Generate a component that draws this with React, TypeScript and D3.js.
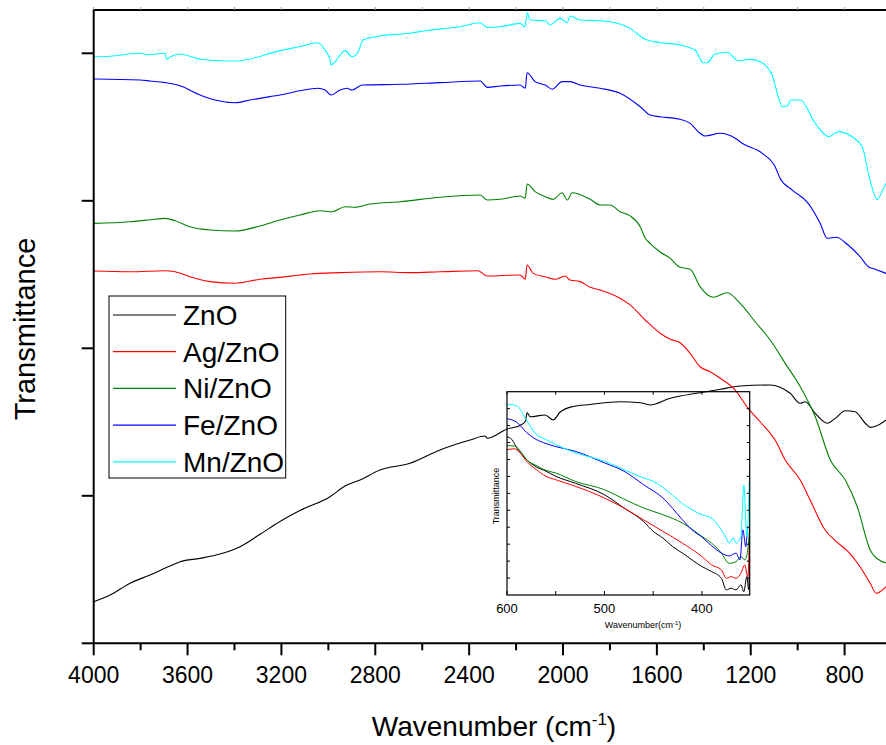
import React, { useEffect, useRef } from 'react';
import * as d3 from 'd3';

const W = 886;
const H = 745;
const FONT = '"Liberation Sans", Arial, sans-serif';

const seriesNames = ['ZnO', 'Ag/ZnO', 'Ni/ZnO', 'Fe/ZnO', 'Mn/ZnO'];
const seriesColors = ['#000000', '#ff0000', '#008000', '#0000ff', '#00ffff'];

const xTicks = [4000, 3600, 3200, 2800, 2400, 2000, 1600, 1200, 800];
const xMinorTicks = [3800, 3400, 3000, 2600, 2200, 1800, 1400, 1000];
const yTicks = [0, 1, 2, 3, 4];
const insetXTicks = [600, 500, 400];
const insetMinorTicks = [550, 450];

// main spectra: [wavenumber, transmittance (a.u.)]
const zno: [number, number][] = [
  [4000, 0.282], [3930, 0.327], [3845, 0.407], [3760, 0.463], [3675, 0.524], [3632, 0.553],
  [3547, 0.576], [3462, 0.605], [3376, 0.655], [3291, 0.739], [3206, 0.826], [3121, 0.9],
  [2993, 0.994], [2929, 1.066], [2865, 1.107], [2780, 1.175], [2652, 1.22], [2524, 1.311],
  [2396, 1.378], [2332, 1.405], [2323, 1.39], [2238, 1.453], [2183, 1.477], [2161, 1.502],
  [2153, 1.563], [2140, 1.536], [2076, 1.548], [2042, 1.514], [2012, 1.568], [1961, 1.604],
  [1884, 1.619], [1757, 1.638], [1671, 1.631], [1629, 1.616], [1543, 1.661], [1416, 1.699],
  [1330, 1.722], [1245, 1.744], [1117, 1.751], [1075, 1.736], [1032, 1.695], [989, 1.627],
  [968, 1.638], [925, 1.559], [874, 1.492], [840, 1.525], [797, 1.577], [755, 1.57],
  [712, 1.492], [691, 1.464], [665, 1.473], [623, 1.514],
];

const agZno: [number, number][] = [
  [4000, 2.524], [3845, 2.519], [3696, 2.526], [3653, 2.519], [3590, 2.485], [3504, 2.452],
  [3398, 2.441], [3291, 2.468], [3206, 2.481], [3121, 2.497], [3078, 2.504], [2950, 2.513],
  [2780, 2.519], [2652, 2.513], [2524, 2.519], [2362, 2.526], [2323, 2.49], [2183, 2.497],
  [2161, 2.468], [2153, 2.565], [2127, 2.508], [2076, 2.485], [2034, 2.468], [1991, 2.49],
  [1970, 2.463], [1927, 2.452], [1884, 2.414], [1842, 2.395], [1757, 2.339], [1714, 2.294],
  [1650, 2.192], [1586, 2.102], [1543, 2.061], [1501, 2.038], [1458, 1.966], [1416, 1.875],
  [1373, 1.841], [1330, 1.797], [1266, 1.717], [1211, 1.593], [1160, 1.502], [1096, 1.378],
  [1053, 1.243], [989, 1.107], [947, 0.972], [883, 0.768], [840, 0.696], [785, 0.621],
  [734, 0.519], [691, 0.407], [665, 0.339], [623, 0.384],
];

const niZno: [number, number][] = [
  [4000, 2.847], [3845, 2.858], [3739, 2.875], [3696, 2.881], [3653, 2.865], [3590, 2.824],
  [3504, 2.802], [3398, 2.795], [3291, 2.829], [3206, 2.87], [3121, 2.904], [3035, 2.933],
  [2984, 2.926], [2929, 2.96], [2886, 2.956], [2822, 2.978], [2694, 2.994], [2524, 3.024],
  [2353, 3.039], [2323, 3.005], [2268, 3.01], [2183, 3.033], [2161, 3.017], [2153, 3.114],
  [2119, 3.062], [2076, 3.028], [2042, 3.01], [2004, 3.055], [1982, 3.005], [1961, 3.055],
  [1884, 3.01], [1842, 2.972], [1799, 2.972], [1757, 2.926], [1714, 2.898], [1671, 2.824],
  [1650, 2.748], [1629, 2.712], [1586, 2.653], [1543, 2.61], [1501, 2.549], [1458, 2.536],
  [1416, 2.418], [1360, 2.346], [1300, 2.377], [1245, 2.305], [1181, 2.18], [1117, 2.056],
  [1053, 1.898], [989, 1.74], [925, 1.536], [861, 1.243], [797, 1.107], [746, 0.926],
  [691, 0.633], [648, 0.56], [623, 0.546],
];

const feZno: [number, number][] = [
  [4000, 3.826], [3803, 3.819], [3760, 3.812], [3696, 3.801], [3632, 3.78], [3547, 3.717],
  [3483, 3.683], [3398, 3.665], [3334, 3.683], [3249, 3.706], [3206, 3.717], [3121, 3.746],
  [3044, 3.763], [3014, 3.751], [2989, 3.717], [2950, 3.751], [2920, 3.763], [2899, 3.751],
  [2856, 3.785], [2694, 3.79], [2524, 3.801], [2353, 3.812], [2323, 3.769], [2268, 3.778],
  [2183, 3.785], [2161, 3.763], [2153, 3.868], [2119, 3.808], [2076, 3.785], [2046, 3.756],
  [2004, 3.808], [1970, 3.808], [1927, 3.785], [1842, 3.763], [1757, 3.729], [1671, 3.638],
  [1629, 3.582], [1586, 3.57], [1501, 3.553], [1458, 3.525], [1416, 3.458], [1394, 3.439],
  [1330, 3.458], [1266, 3.424], [1237, 3.39], [1151, 3.322], [1096, 3.231], [1075, 3.153],
  [1023, 3.073], [955, 2.983], [904, 2.847], [874, 2.746], [836, 2.753], [785, 2.7],
  [734, 2.621], [699, 2.553], [670, 2.536], [623, 2.508],
];

const mnZno: [number, number][] = [
  [4000, 3.977], [3930, 3.98], [3803, 4.0], [3770, 3.99], [3696, 4.0], [3690, 3.96],
  [3675, 3.975], [3632, 3.995], [3590, 3.98], [3547, 3.96], [3462, 3.95], [3398, 3.948],
  [3376, 3.95], [3206, 4.018], [3121, 4.046], [3044, 4.072], [3014, 4.022], [2993, 3.955],
  [2989, 3.921], [2971, 3.943], [2950, 3.989], [2929, 4.018], [2899, 3.977], [2873, 4.011],
  [2852, 4.09], [2780, 4.118], [2652, 4.136], [2588, 4.153], [2439, 4.18], [2353, 4.207],
  [2323, 4.176], [2268, 4.18], [2183, 4.203], [2161, 4.18], [2153, 4.275], [2140, 4.226],
  [2076, 4.221], [2055, 4.192], [2012, 4.237], [1982, 4.207], [1970, 4.253], [1927, 4.226],
  [1842, 4.221], [1757, 4.199], [1714, 4.169], [1650, 4.095], [1586, 4.072], [1501, 4.056],
  [1437, 4.022], [1403, 3.936], [1386, 3.936], [1352, 3.995], [1300, 4.007], [1254, 3.95],
  [1202, 3.959], [1160, 3.943], [1109, 3.853], [1083, 3.706], [1066, 3.638], [1045, 3.643],
  [1028, 3.683], [989, 3.683], [925, 3.525], [866, 3.435], [827, 3.469], [759, 3.424],
  [725, 3.367], [695, 3.163], [661, 3.01], [631, 3.096], [623, 3.12],
];

// inset (600-350 cm-1): [wavenumber, transmittance (a.u.)]
const znoInset: [number, number][] = [
  [600, 77.8], [595, 76.5], [590, 72.4], [580, 66.6], [570, 63], [560, 60.9], [550, 58.4],
  [530, 55], [500, 49.3], [480, 42.8], [460, 36.2], [450, 31.3], [440, 28], [430, 23.8],
  [420, 20.6], [400, 14], [390, 11.5], [380, 8.2], [375, 2.5], [370, 3.3], [365, 2.5],
  [360, 5], [357, 1.6], [354, 9], [352, 2.5], [351, 33.7],
];
const agInset: [number, number][] = [
  [600, 71.5], [592, 71.9], [585, 69], [580, 65.8], [570, 61.7], [560, 58.4], [550, 56.7],
  [530, 53.5], [500, 47.7], [480, 42.8], [460, 37], [440, 31.3], [420, 25.5], [400, 18.9],
  [390, 14.8], [380, 12.3], [375, 8.2], [370, 9], [365, 8.2], [360, 10.7], [356, 14.8],
  [353, 9], [351, 32],
];
const niInset: [number, number][] = [
  [600, 73.5], [592, 73.2], [585, 70], [580, 66.6], [570, 63.7], [560, 61.3], [550, 60],
  [530, 55.9], [500, 51.8], [480, 47.2], [460, 42.8], [440, 39.5], [420, 35.4], [400, 28.8],
  [390, 25.5], [380, 20.6], [372, 15.6], [365, 16.4], [360, 18.9], [356, 17.3], [353, 22],
  [351, 34.5],
];
const feInset: [number, number][] = [
  [600, 86.7], [590, 85], [580, 80], [570, 76.5], [560, 74.5], [550, 73], [530, 70.7],
  [500, 65], [480, 60.9], [460, 54.3], [440, 47.7], [420, 37], [410, 32], [400, 28.5],
  [390, 24.2], [380, 20.6], [372, 19.2], [365, 20.6], [361, 17.3], [358, 32], [355, 23.8],
  [353, 33], [351, 33],
];
const mnInset: [number, number][] = [
  [600, 93.8], [590, 93], [580, 86], [570, 79], [560, 76.5], [550, 74], [530, 70],
  [500, 65.8], [480, 61.7], [460, 57.6], [450, 56], [430, 49], [420, 45], [400, 39.5],
  [390, 37.8], [380, 32], [375, 28], [372, 25.5], [368, 28], [365, 25.5], [360, 28.8],
  [357, 54], [354, 28.8], [351, 62.5],
];

const mainSeries = [zno, agZno, niZno, feZno, mnZno];
const insetSeries = [znoInset, agInset, niInset, feInset, mnInset];

export default function App() {
  const ref = useRef<SVGSVGElement>(null);

  useEffect(() => {
    const svg = d3.select(ref.current);
    svg.selectAll('*').remove();

    const left = 93.7, top = 10, bottom = 643.3;
    const x = d3.scaleLinear().domain([4000, 800]).range([left, 844.6]);
    const y = d3.scaleLinear().domain([0, 4]).range([bottom, 53.3]);

    svg.append('clipPath').attr('id', 'plotClip')
      .append('rect').attr('x', left).attr('y', top).attr('width', W - left).attr('height', bottom - top);

    // spectra
    const line = d3.line<[number, number]>().x(d => x(d[0])).y(d => y(d[1])).curve(d3.curveMonotoneX);
    const plot = svg.append('g').attr('clip-path', 'url(#plotClip)');
    mainSeries.forEach((s, i) => {
      plot.append('path').attr('d', line(s)).attr('fill', 'none')
        .attr('stroke', seriesColors[i]).attr('stroke-width', 1.1);
    });

    // axes
    const ax = svg.append('g').attr('stroke', '#000');
    ax.append('line').attr('x1', left).attr('x2', left).attr('y1', top - 1).attr('y2', bottom).attr('stroke-width', 2);
    ax.append('line').attr('x1', left).attr('x2', W).attr('y1', bottom).attr('y2', bottom).attr('stroke-width', 2);
    ax.append('line').attr('x1', left).attr('x2', W).attr('y1', top).attr('y2', top).attr('stroke-width', 2);

    xTicks.forEach(t => {
      ax.append('line').attr('x1', x(t)).attr('x2', x(t)).attr('y1', bottom).attr('y2', bottom + 12).attr('stroke-width', 2);
      ax.append('line').attr('x1', x(t)).attr('x2', x(t)).attr('y1', top).attr('y2', top - 3).attr('stroke-width', 1).attr('stroke', '#999');
    });
    xMinorTicks.forEach(t => {
      ax.append('line').attr('x1', x(t)).attr('x2', x(t)).attr('y1', bottom).attr('y2', bottom + 7).attr('stroke-width', 2);
      ax.append('line').attr('x1', x(t)).attr('x2', x(t)).attr('y1', top).attr('y2', top - 3).attr('stroke-width', 1).attr('stroke', '#999');
    });
    yTicks.forEach(t => {
      ax.append('line').attr('x1', left - 12).attr('x2', left).attr('y1', y(t)).attr('y2', y(t)).attr('stroke-width', 2);
    });

    svg.append('g').selectAll('text').data(xTicks).join('text')
      .attr('x', d => x(d)).attr('y', 683).attr('text-anchor', 'middle')
      .attr('font-family', FONT).attr('font-size', 23).text(d => d);

    const xt = svg.append('text').attr('x', 494).attr('y', 736).attr('text-anchor', 'middle')
      .attr('font-family', FONT).attr('font-size', 28);
    xt.append('tspan').text('Wavenumber (cm');
    xt.append('tspan').attr('dy', -11).attr('font-size', 17).text('-1');
    xt.append('tspan').attr('dy', 11).text(')');

    svg.append('text').attr('transform', 'translate(35,329) rotate(-90)').attr('text-anchor', 'middle')
      .attr('font-family', FONT).attr('font-size', 29).text('Transmittance');

    // legend
    const lg = svg.append('g');
    lg.append('rect').attr('x', 109).attr('y', 296).attr('width', 176.7).attr('height', 182)
      .attr('fill', '#fff').attr('stroke', '#000').attr('stroke-width', 1);
    seriesNames.forEach((name, i) => {
      const ly = 315 + i * 36.7;
      lg.append('line').attr('x1', 113).attr('x2', 176).attr('y1', ly).attr('y2', ly)
        .attr('stroke', seriesColors[i]).attr('stroke-width', 1.2);
      lg.append('text').attr('x', 183).attr('y', ly + 10).attr('font-family', FONT)
        .attr('font-size', 28).text(name);
    });

    // inset
    const iL = 507, iR = 749.7, iT = 391.7, iB = 595;
    const ix = d3.scaleLinear().domain([600, 351]).range([iL, iR]);
    const iy = d3.scaleLinear().domain([0, 100]).range([iB, iT]);
    svg.append('clipPath').attr('id', 'insetClip')
      .append('rect').attr('x', iL).attr('y', iT).attr('width', iR - iL).attr('height', iB - iT);
    const iline = d3.line<[number, number]>().x(d => ix(d[0])).y(d => iy(d[1])).curve(d3.curveMonotoneX);
    const ig = svg.append('g').attr('clip-path', 'url(#insetClip)');
    insetSeries.forEach((s, i) => {
      ig.append('path').attr('d', iline(s)).attr('fill', 'none')
        .attr('stroke', seriesColors[i]).attr('stroke-width', 1);
    });
    const ia = svg.append('g').attr('stroke', '#000');
    ia.append('rect').attr('x', iL).attr('y', iT).attr('width', iR - iL).attr('height', iB - iT)
      .attr('fill', 'none').attr('stroke-width', 1.2);
    d3.range(1, 12).forEach(k => {
      const ty = iy((k * 100) / 12);
      ia.append('line').attr('x1', iL).attr('x2', iL + 3).attr('y1', ty).attr('y2', ty);
      ia.append('line').attr('x1', iR - 3).attr('x2', iR).attr('y1', ty).attr('y2', ty);
    });
    [...insetXTicks, ...insetMinorTicks].forEach(t => {
      ia.append('line').attr('x1', ix(t)).attr('x2', ix(t)).attr('y1', iB).attr('y2', iB - 4);
      ia.append('line').attr('x1', ix(t)).attr('x2', ix(t)).attr('y1', iT).attr('y2', iT + 3);
    });
    svg.append('g').selectAll('text').data(insetXTicks).join('text')
      .attr('x', d => ix(d)).attr('y', 613).attr('text-anchor', 'middle')
      .attr('font-family', FONT).attr('font-size', 13).text(d => d);
    const it = svg.append('text').attr('x', 643).attr('y', 628).attr('text-anchor', 'middle')
      .attr('font-family', FONT).attr('font-size', 9);
    it.append('tspan').text('Wavenumber(cm');
    it.append('tspan').attr('dy', -3).attr('font-size', 6).text('-1');
    it.append('tspan').attr('dy', 3).text(')');
    svg.append('text').attr('transform', 'translate(499,496) rotate(-90)').attr('text-anchor', 'middle')
      .attr('font-family', FONT).attr('font-size', 9).text('Transmittance');
  }, []);

  return (
    <svg ref={ref} width={W} height={H}
      style={{ position: 'absolute', left: 0, top: 0, background: '#fff' }} />
  );
}
